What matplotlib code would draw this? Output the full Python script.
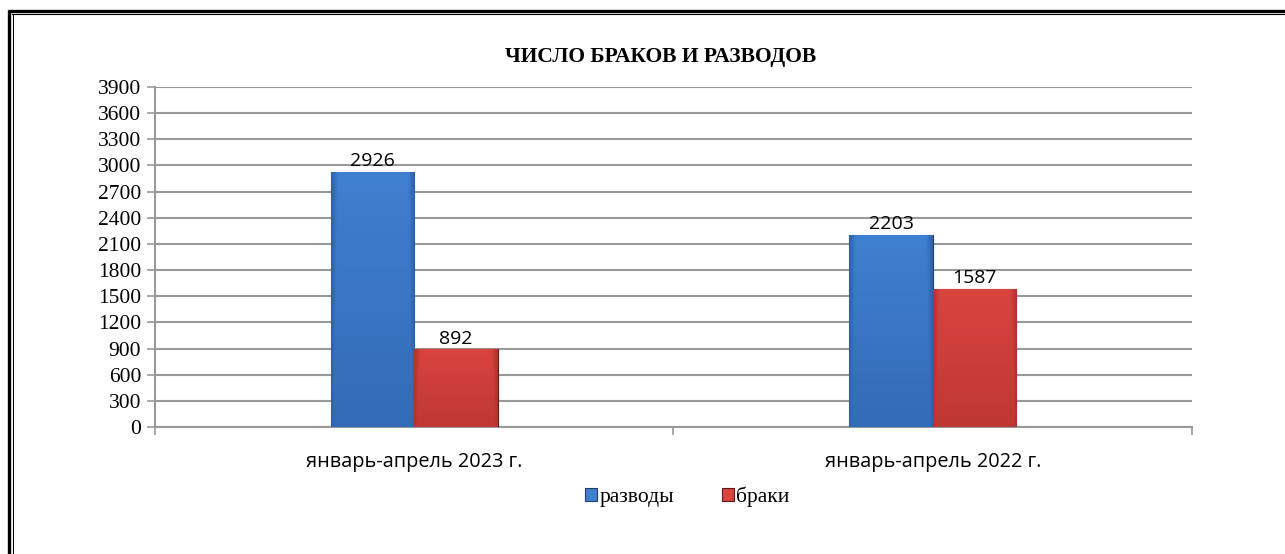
import numpy as np
import matplotlib.pyplot as plt
from matplotlib.lines import Line2D
from matplotlib.colors import LinearSegmentedColormap

# data
categories = ["январь-апрель 2023 г.", "январь-апрель 2022 г."]
divorces = [2926, 2203]
marriages = [892, 1587]
series_names = ["разводы", "браки"]
y_ticks = list(range(0, 3901, 300))

blue_light, blue_dark = "#4080d0", "#2d62ab"
red_light, red_dark = "#d9443f", "#b2322e"

fig = plt.figure(figsize=(12.85, 5.54), dpi=100)
ax = fig.add_axes([0.1206, 0.229, 0.807, 0.614])

x = np.arange(len(categories))
w = 0.161

b1 = ax.bar(x - w / 2, divorces, w, color=blue_light, edgecolor="#1f3f6e",
            linewidth=0.8, zorder=3)
b2 = ax.bar(x + w / 2, marriages, w, color=red_light, edgecolor="#5e1a18",
            linewidth=0.8, zorder=3)


def shade(bars, c_light, c_dark):
    # soft gradient, darker toward the bottom and the sides
    cmap = LinearSegmentedColormap.from_list("g", [c_dark, c_light])
    gx = np.concatenate([np.linspace(0.5, 1, 6), np.ones(52), np.linspace(1, 0.5, 6)])
    gy = np.linspace(0.65, 1, 64).reshape(-1, 1)
    grad = np.minimum(gx.reshape(1, -1), gy)
    for p in bars:
        x0, y0 = p.get_x(), p.get_y()
        im = ax.imshow(grad, cmap=cmap, aspect="auto", zorder=3.5, origin="lower",
                       extent=[x0, x0 + p.get_width(), y0, y0 + p.get_height()])
        im.set_clip_path(p)


shade(b1, blue_light, blue_dark)
shade(b2, red_light, red_dark)

for bars, vals in ((b1, divorces), (b2, marriages)):
    for p, v in zip(bars, vals):
        ax.text(p.get_x() + p.get_width() / 2, v + 20, str(v), ha="center",
                va="bottom", fontsize=14, family="Open Sans", zorder=5)

ax.set_xlim(-0.5, len(categories) - 0.5)
ax.set_ylim(0, 3900)
ax.set_yticks(y_ticks)
ax.set_yticklabels([str(t) for t in y_ticks], family="Liberation Serif", fontsize=15.5)
ax.set_xticks(x)
ax.set_xticklabels(categories, family="Open Sans", fontsize=14.3)
ax.set_xticks([-0.5, 0.5, 1.5], minor=True)
ax.tick_params(axis="x", which="major", length=0, pad=18)
ax.tick_params(axis="x", which="minor", length=6, color="#999999", width=1.2)
ax.tick_params(axis="y", length=6, color="#999999", width=1.2, pad=4)

ax.grid(axis="y", color="#999999", linewidth=1.5, zorder=0)
ax.set_axisbelow(True)
for s in ("top", "right"):
    ax.spines[s].set_visible(False)
ax.spines["left"].set_color("#999999")
ax.spines["left"].set_linewidth(1.5)
ax.spines["bottom"].set_color("#999999")
ax.spines["bottom"].set_linewidth(1.5)

fig.text(0.514, 0.897, "ЧИСЛО БРАКОВ И РАЗВОДОВ", ha="center", va="center",
         family="Liberation Serif", fontweight="bold", fontsize=15.5)

leg = fig.legend([b1, b2], series_names, loc="center", bbox_to_anchor=(0.535, 0.103),
                 ncol=2, frameon=False, handlelength=0.55, handleheight=0.55,
                 handletextpad=0.12, columnspacing=2.2,
                 prop={"family": "Liberation Serif", "size": 15.5})

# double frame at top and left
fig.add_artist(Line2D([8 / 1285, 1], [1 - 11 / 554] * 2, color="black", lw=2.4,
                      solid_capstyle="butt"))
fig.add_artist(Line2D([12 / 1285, 1], [1 - 14 / 554] * 2, color="black", lw=0.8))
fig.add_artist(Line2D([9 / 1285] * 2, [0, 1 - 10 / 554], color="black", lw=2.4,
                      solid_capstyle="butt"))
fig.add_artist(Line2D([12.5 / 1285] * 2, [0, 1 - 14 / 554], color="black", lw=0.8))

plt.savefig("out.png", dpi=100)
